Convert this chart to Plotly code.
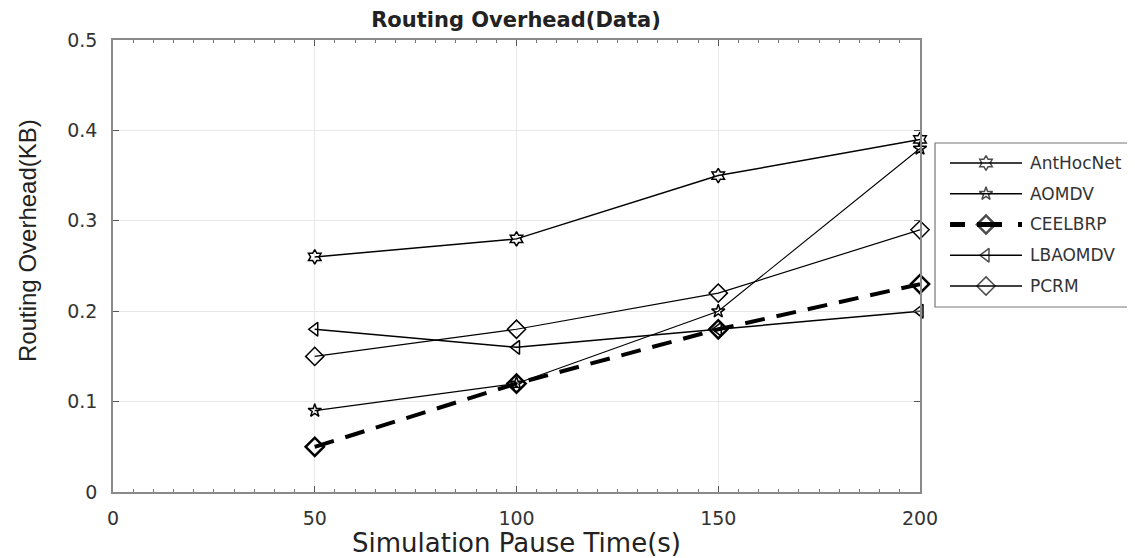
import plotly.graph_objects as go

# ---- data ----
x_vals = [50, 100, 150, 200]
anthocnet = [0.26, 0.28, 0.35, 0.39]
aomdv = [0.09, 0.12, 0.20, 0.38]
ceelbrp = [0.05, 0.12, 0.18, 0.23]
lbaomdv = [0.18, 0.16, 0.18, 0.20]
pcrm = [0.15, 0.18, 0.22, 0.29]
series_names = ["AntHocNet", "AOMDV", "CEELBRP", "LBAOMDV", "PCRM"]

x_ticks = [0, 50, 100, 150, 200]
y_ticks = [0, 0.1, 0.2, 0.3, 0.4, 0.5]
y_tick_labels = ["0", "0.1", "0.2", "0.3", "0.4", "0.5"]

# legend sample geometry (in legend-axis units)
legend_x = [0, 0.5, 1]

# ---- figure geometry (page body adds an 8px offset) ----
W, H = 1127, 550
def px(x):
    return x / W
def py(y):
    return 1 - y / H

styles = {
    "AntHocNet": dict(sym="hexagram-open", size=11, w=1.5, dash="solid", mw=1.5),
    "AOMDV": dict(sym="star-open", size=10, w=1.1, dash="solid", mw=1.5),
    "CEELBRP": dict(sym="diamond-open", size=14, w=4, dash="20px,12px", mw=2.5),
    "LBAOMDV": dict(sym="triangle-left-open", size=12, w=1.5, dash="solid", mw=1.5),
    "PCRM": dict(sym="diamond-open", size=14, w=1.2, dash="solid", mw=1.5),
}
values = {"AntHocNet": anthocnet, "AOMDV": aomdv, "CEELBRP": ceelbrp,
          "LBAOMDV": lbaomdv, "PCRM": pcrm}

fig = go.Figure()
for name in series_names:
    s = styles[name]
    fig.add_trace(go.Scatter(
        x=x_vals, y=values[name], name=name, mode="lines+markers",
        line=dict(color="black", width=s["w"], dash=s["dash"]),
        marker=dict(symbol=s["sym"], size=s["size"], color="black",
                    line=dict(color="black", width=s["mw"])),
        cliponaxis=False, showlegend=False,
    ))

# custom legend samples drawn on a hidden pair of axes
for i, name in enumerate(series_names):
    s = styles[name]
    is_ceel = name == "CEELBRP"
    fig.add_trace(go.Scatter(
        x=legend_x, y=[i] * len(legend_x), mode="lines+markers",
        xaxis="x2", yaxis="y2", showlegend=False, hoverinfo="skip",
        line=dict(color="black", width=5 if is_ceel else 1.6,
                  dash="15px,12px,25px,16px,5px,100px" if is_ceel else "solid"),
        marker=dict(symbol=s["sym"], size=[0, s["size"], 0], color="black",
                    line=dict(color="black", width=s["mw"])),
        cliponaxis=False,
    ))
    fig.add_annotation(x=px(1020), y=i, xref="paper", yref="y2", text=name,
                       showarrow=False, xanchor="left", yanchor="middle",
                       font=dict(family="DejaVu Sans", size=17, color="#333"))

# legend frame
fig.add_shape(type="rect", xref="paper", yref="paper",
              x0=px(927), x1=1.02, y0=py(299), y1=py(135),
              line=dict(color="#777", width=1.2), fillcolor="rgba(0,0,0,0)", layer="below")

# y-axis title (placed like the reference, slightly above the plot centre)
fig.add_annotation(x=px(20), y=py(233), xref="paper", yref="paper",
                   text="Routing Overhead(KB)", textangle=-90, showarrow=False,
                   xanchor="center", yanchor="middle",
                   font=dict(family="Liberation Sans, Arial, sans-serif", size=24, color="#222"))

tickfont = dict(family="DejaVu Sans", size=19, color="#333")

fig.update_layout(
    width=W, height=H,
    margin=dict(l=0, r=0, t=0, b=0, autoexpand=False),
    paper_bgcolor="white", plot_bgcolor="white",
    font=dict(family="DejaVu Sans, Liberation Sans, sans-serif", color="#333"),
    title=dict(text="<b>Routing Overhead(Data)</b>", x=px(508), xanchor="center", xref="paper",
               y=py(12), yanchor="middle", yref="container", automargin=False,
               font=dict(family="DejaVu Sans", size=21, color="#222")),
    showlegend=False,
    xaxis=dict(
        domain=[px(105), px(912)], anchor="y", automargin=False,
        range=[0, 200], tickvals=x_ticks, ticktext=[str(v) for v in x_ticks],
        showgrid=True, gridcolor="#e8e8e8", gridwidth=1,
        showline=True, linecolor="#8a8a8a", linewidth=1.5, mirror="ticks",
        ticks="inside", ticklen=6, tickcolor="#555", tickwidth=1,
        minor=dict(dtick=5, ticks="inside", ticklen=3, tickcolor="#777", showgrid=False),
        tickfont=tickfont, zeroline=False, ticklabelstandoff=8,
        title=dict(text="Simulation Pause Time(s)",
                   font=dict(family="DejaVu Sans", size=26, color="#222"), standoff=10),
    ),
    yaxis=dict(
        domain=[py(484), py(32)], anchor="x", automargin=False,
        range=[0, 0.5], tickvals=y_ticks, ticktext=y_tick_labels,
        showgrid=True, gridcolor="#e8e8e8", gridwidth=1,
        showline=True, linecolor="#8a8a8a", linewidth=1.5, mirror="ticks",
        ticks="inside", ticklen=6, tickcolor="#555", tickwidth=1,
        tickfont=tickfont, zeroline=False, ticklabelstandoff=10,
    ),
    xaxis2=dict(domain=[px(934.8), px(1021.2)], range=[-0.1, 1.1], visible=False,
                anchor="y2", fixedrange=True, automargin=False),
    yaxis2=dict(domain=[py(293), py(140)], range=[4.4878, -0.4878], visible=False,
                anchor="x2", fixedrange=True, automargin=False),
)

fig.write_html("out.html")
